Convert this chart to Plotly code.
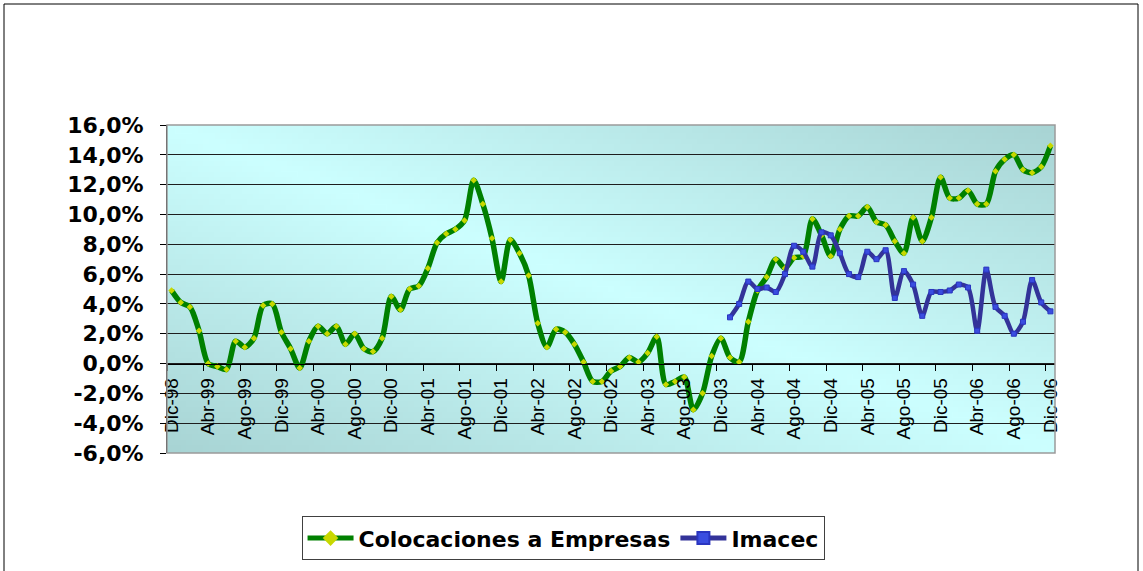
import base64, struct, zlib
import plotly.graph_objects as go

# ---------------- data ----------------
month_abbr = ["Ene", "Feb", "Mar", "Abr", "May", "Jun", "Jul", "Ago", "Sep", "Oct", "Nov", "Dic"]
years = ["99", "00", "01", "02", "03", "04", "05", "06"]
months = ["Dic-98"] + [f"{m}-{y}" for y in years for m in month_abbr]

colocaciones = [
    4.9, 4.1, 3.8, 2.2, 0.0, -0.2, -0.4, 1.5, 1.1, 1.7, 3.9, 4.0,
    2.1, 1.0, -0.3, 1.5, 2.5, 2.0, 2.5, 1.3, 2.0, 1.0, 0.8, 1.7,
    4.5, 3.6, 5.0, 5.2, 6.4, 8.1, 8.7, 9.0, 9.6, 12.3, 10.7, 8.4,
    5.5, 8.3, 7.4, 5.9, 2.7, 1.1, 2.3, 2.1, 1.3, 0.1, -1.2, -1.2,
    -0.5, -0.2, 0.4, 0.1, 0.7, 1.8, -1.4, -1.2, -0.9, -3.1, -2.0, 0.5,
    1.7, 0.4, 0.1, 2.8, 4.9, 5.8, 7.0, 6.4, 7.1, 7.2, 9.7, 8.6,
    7.2, 9.0, 9.9, 9.9, 10.5, 9.5, 9.3, 8.2, 7.4, 9.8, 8.2, 9.8,
    12.5, 11.1, 11.1, 11.6, 10.7, 10.7, 12.9, 13.7, 14.0, 13.0, 12.8, 13.2,
    14.6,
]

imacec = [None] * 61 + [
    3.1, 4.0, 5.5, 5.0, 5.1, 4.8, 6.0, 7.9, 7.5, 6.5, 8.8,
    8.6, 7.4, 6.0, 5.8, 7.5, 7.0, 7.6, 4.4, 6.2, 5.3, 3.2, 4.8,
    4.8, 4.9, 5.3, 5.1, 2.2, 6.3, 3.8, 3.2, 2.0, 2.8, 5.6, 4.1,
    3.5,
]

y_tickvals = [-6, -4, -2, 0, 2, 4, 6, 8, 10, 12, 14, 16]
y_ticktext = ["-6,0%", "-4,0%", "-2,0%", "0,0%", "2,0%", "4,0%", "6,0%",
              "8,0%", "10,0%", "12,0%", "14,0%", "16,0%"]

x_idx = list(range(len(months)))
x_tickvals = x_idx[::4]
x_ticktext = months[::4]

# ---------------- background gradient (PNG built by hand) ----------------
def make_gradient_png(w=160, h=60):
    light = (204, 255, 255)
    dark = (168, 212, 212)
    rows = []
    for py in range(h):
        v = py / (h - 1)
        row = bytearray([0])
        for px in range(w):
            u = px / (w - 1)
            f = min(1.0, abs(u - v))
            row += bytes(int(round(light[k] + (dark[k] - light[k]) * f)) for k in range(3))
        rows.append(bytes(row))
    raw = b"".join(rows)

    def chunk(tag, data):
        c = struct.pack(">I", len(data)) + tag + data
        return c + struct.pack(">I", zlib.crc32(tag + data) & 0xFFFFFFFF)

    png = (b"\x89PNG\r\n\x1a\n"
           + chunk(b"IHDR", struct.pack(">IIBBBBB", w, h, 8, 2, 0, 0, 0))
           + chunk(b"IDAT", zlib.compress(raw, 9))
           + chunk(b"IEND", b""))
    return "data:image/png;base64," + base64.b64encode(png).decode()

# ---------------- figure ----------------
fig = go.Figure()

fig.add_trace(go.Scatter(
    x=x_idx, y=colocaciones, name="Colocaciones a Empresas", mode="lines+markers",
    line=dict(color="#008000", width=5.5, shape="spline", smoothing=0.8),
    marker=dict(symbol="diamond", size=5, color="#c8d800", line=dict(width=0)),
))
fig.add_trace(go.Scatter(
    x=x_idx, y=imacec, name="Imacec", mode="lines+markers",
    line=dict(color="#333399", width=4.5, shape="spline", smoothing=0.8),
    marker=dict(symbol="square", size=5, color="#3a4de0", line=dict(width=1, color="#2a35c0")),
    connectgaps=False,
))

W, H = 1143, 571
ml, mr, mt, mb = 167, 88, 125, 118
pw, ph = W - ml - mr, H - mt - mb

fig.update_layout(
    width=W, height=H, autosize=False,
    margin=dict(l=ml, r=mr, t=mt, b=mb, autoexpand=False),
    paper_bgcolor="white", plot_bgcolor="rgba(0,0,0,0)",
    showlegend=True,
    legend=dict(
        orientation="h", x=0.446, xanchor="center", y=-0.26, yanchor="middle",
        bgcolor="white", bordercolor="#404040", borderwidth=1,
        font=dict(family="DejaVu Sans", size=22, color="black", weight="bold"),
        itemsizing="constant", itemwidth=46,
    ),
    images=[dict(
        source=make_gradient_png(), xref="paper", yref="paper",
        x=0, y=1, sizex=1, sizey=1, xanchor="left", yanchor="top",
        sizing="stretch", layer="below",
    )],
    shapes=[
        dict(type="rect", xref="paper", yref="paper", x0=0, x1=1, y0=0, y1=1,
             line=dict(color="#9a9a9a", width=1.5), layer="above"),
        dict(type="rect", xref="paper", yref="paper",
             x0=(4 - ml) / pw, x1=(1138 - ml) / pw,
             y0=(H - mb - 600) / ph, y1=(H - mb - 4) / ph,
             line=dict(color="black", width=1), layer="below"),
    ],
)

fig.update_yaxes(
    range=[-6, 16], tickvals=y_tickvals, ticktext=y_ticktext,
    showgrid=True, gridcolor="#1e1e1e", gridwidth=1, zeroline=False,
    showline=True, linecolor="black", linewidth=1,
    ticks="outside", ticklen=6, tickcolor="black",
    tickfont=dict(family="DejaVu Sans", size=22, color="black", weight="bold"),
    ticklabelstandoff=12,
)

fig.update_xaxes(
    range=[-0.5, len(months) - 0.5],
    tickmode="array", tickvals=x_tickvals, ticktext=x_ticktext,
    tickangle=-90, showgrid=False, zeroline=False,
    showline=True, linecolor="black", linewidth=1,
    anchor="free", position=6 / 22,
    ticks="outside", ticklen=6, tickcolor="rgba(0,0,0,0)",
    tickfont=dict(family="Liberation Sans", size=19, color="black"),
    minor=dict(tickmode="linear", tick0=-0.5, dtick=4, ticks="outside",
               ticklen=6, tickcolor="black", showgrid=False),
)

fig.write_html(
    "out.html",
    config={"displayModeBar": False},
    post_script="document.body.style.margin='0';document.body.style.overflow='hidden';",
)
